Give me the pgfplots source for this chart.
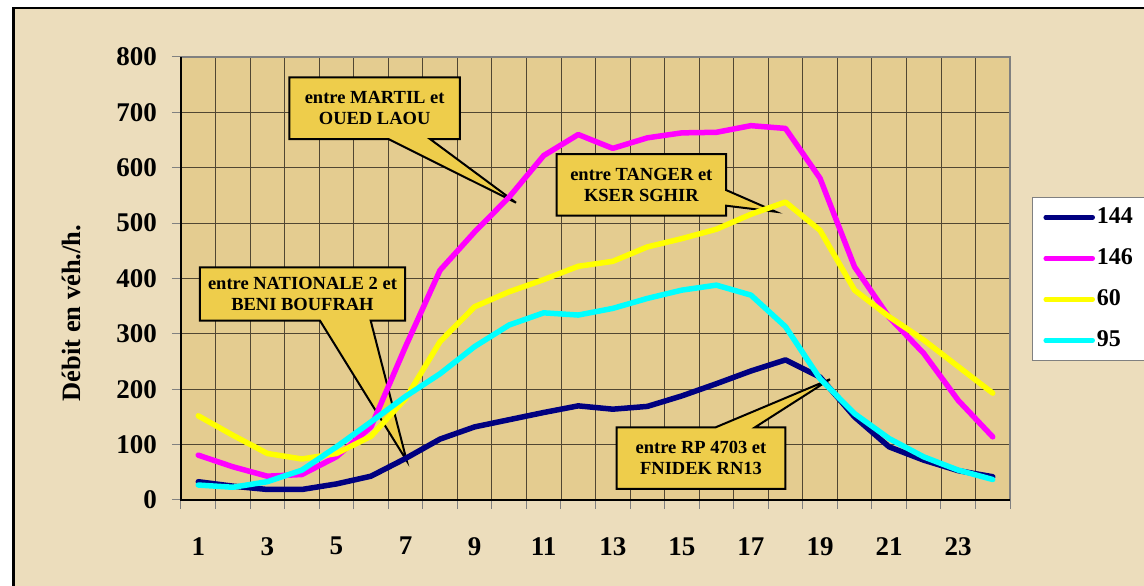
\documentclass[border=0pt]{standalone}
\usepackage{fontspec}
\setmainfont{Liberation Serif}
\usepackage{pgfplots}
\pgfplotsset{compat=1.18}
\definecolor{parch}{RGB}{236,221,188}
\definecolor{plotbg}{RGB}{228,204,144}
\definecolor{callout}{RGB}{238,205,75}
\definecolor{gridc}{RGB}{80,70,50}
\definecolor{navyc}{RGB}{0,0,128}
\definecolor{magc}{RGB}{255,0,255}
\definecolor{yelc}{RGB}{255,255,0}
\definecolor{cyac}{RGB}{0,255,255}
\begin{document}
\begin{tikzpicture}[x=1pt,y=1pt]
\useasboundingbox (0,0) rectangle (1144,586);
\fill[white] (0,0) rectangle (1144,586);
\fill[parch] (13.5,0) rectangle (1144,578);
\draw[black, line width=2.5pt] (13.5,0) -- (13.5,578) -- (1144,578);
\begin{axis}[
  at={(181pt,86pt)}, anchor=south west,
  width=829pt, height=443pt, scale only axis,
  xmin=0.5, xmax=24.5, ymin=0, ymax=800,
  clip=false,
  axis background/.style={fill=plotbg},
  axis line style={draw=gray, line width=2pt},
  xtick={0.5,1.5,...,24.5}, xticklabels={},
  extra x ticks={1,3,...,23},
  extra x tick labels={1,3,5,7,9,11,13,15,17,19,21,23},
  extra x tick style={major tick length=0pt, grid=none},
  ytick={0,100,...,800},
  grid=major, major grid style={draw=gridc, line width=0.8pt},
  tick align=outside, major tick length=9pt,
  tick style={draw=gray, line width=1pt},
  xtick pos=left, ytick pos=left,
  ticklabel style={font=\fontsize{27}{27}\selectfont\bfseries},
  /pgf/number format/assume math mode=true,
  xticklabel style={anchor=north, inner sep=0pt, yshift=-37pt},
  yticklabel style={anchor=east, inner sep=0pt, xshift=-15pt},
  ylabel={Débit en véh./h.},
  ylabel style={font=\fontsize{26.5}{26.5}\selectfont\bfseries,
    at={(axis description cs:-0.1327,0.422)}, anchor=center},
  every axis plot/.append style={line width=5.5pt, line join=round, line cap=round},
  legend style={at={(1.0265,0.684)}, anchor=north west, draw=gray,
    line width=1pt, fill=white, font=\fontsize{24}{24}\selectfont\bfseries,
    row sep=15pt, inner xsep=11pt, inner ysep=7pt,
    nodes={inner sep=2pt, text height=17pt, text depth=5pt}},
  legend cell align=left,
  legend image code/.code={\draw[#1, line width=4.5pt, line cap=round] (0pt,0pt) -- (47pt,0pt);},
]
% bulles
\draw[fill=callout, line width=2pt] (axis cs:3.635,763.3) -- (axis cs:8.577,763.3) -- (axis cs:8.577,651.9) -- (axis cs:7.709,651.9) -- (axis cs:10.198,536.9) -- (axis cs:6.501,651.9) -- (axis cs:3.635,651.9) -- cycle;
\node[font=\fontsize{18.5}{21}\selectfont\bfseries, align=center] at (axis cs:6.106,707.6) {entre MARTIL et\\OUED LAOU};
\draw[fill=callout, line width=2pt] (axis cs:11.377,624.8) -- (axis cs:16.278,624.8) -- (axis cs:16.278,559.8) -- (axis cs:17.717,520.6) -- (axis cs:16.278,531.5) -- (axis cs:16.278,513.4) -- (axis cs:11.377,513.4) -- cycle;
\node[font=\fontsize{18.5}{21}\selectfont\bfseries, align=center] at (axis cs:13.827,569.1) {entre TANGER et\\KSER SGHIR};
\draw[fill=callout, line width=2pt] (axis cs:1.050,420.2) -- (axis cs:6.985,420.2) -- (axis cs:6.985,323.8) -- (axis cs:5.992,323.8) -- (axis cs:7.034,71.0) -- (axis cs:4.524,323.8) -- (axis cs:1.050,323.8) -- cycle;
\node[font=\fontsize{18.5}{21}\selectfont\bfseries, align=center] at (axis cs:4.017,372.0) {entre NATIONALE 2 et\\BENI BOUFRAH};
\draw[fill=callout, line width=2pt] (axis cs:13.114,131.3) -- (axis cs:15.980,131.3) -- (axis cs:19.289,218.0) -- (axis cs:17.118,131.3) -- (axis cs:17.995,131.3) -- (axis cs:17.995,19.9) -- (axis cs:13.114,19.9) -- cycle;
\node[font=\fontsize{18.5}{21}\selectfont\bfseries, align=center] at (axis cs:15.554,75.6) {entre RP 4703 et\\FNIDEK RN13};
% séries
\addplot[navyc] coordinates {(1,33) (2,25) (3,19) (4,19) (5,29) (6,43) (7,75) (8,110) (9,132) (10,145) (11,158) (12,170) (13,164) (14,169) (15,188) (16,210) (17,233) (18,253) (19,222) (20,150) (21,96) (22,72) (23,53) (24,42)};
\addlegendentry{\makebox[60pt][l]{144}}
\addplot[magc] coordinates {(1,81) (2,60) (3,43) (4,46) (5,78) (6,132) (7,277) (8,415) (9,484) (10,547) (11,622) (12,660) (13,635) (14,654) (15,663) (16,664) (17,676) (18,671) (19,581) (20,421) (21,330) (22,265) (23,180) (24,114)};
\addlegendentry{146}
\addplot[yelc] coordinates {(1,152) (2,117) (3,84) (4,74) (5,84) (6,115) (7,183) (8,286) (9,349) (10,376) (11,398) (12,422) (13,431) (14,457) (15,472) (16,489) (17,516) (18,538) (19,487) (20,379) (21,331) (22,289) (23,241) (24,193)};
\addlegendentry{60}
\addplot[cyac] coordinates {(1,27) (2,23) (3,33) (4,54) (5,96) (6,141) (7,187) (8,228) (9,277) (10,316) (11,338) (12,334) (13,346) (14,364) (15,379) (16,388) (17,370) (18,313) (19,219) (20,156) (21,111) (22,78) (23,54) (24,37)};
\addlegendentry{95}
\draw[black, line width=2pt] (rel axis cs:0,1) -- (rel axis cs:0,0) -- (rel axis cs:1,0);
\end{axis}
\end{tikzpicture}
\end{document}
